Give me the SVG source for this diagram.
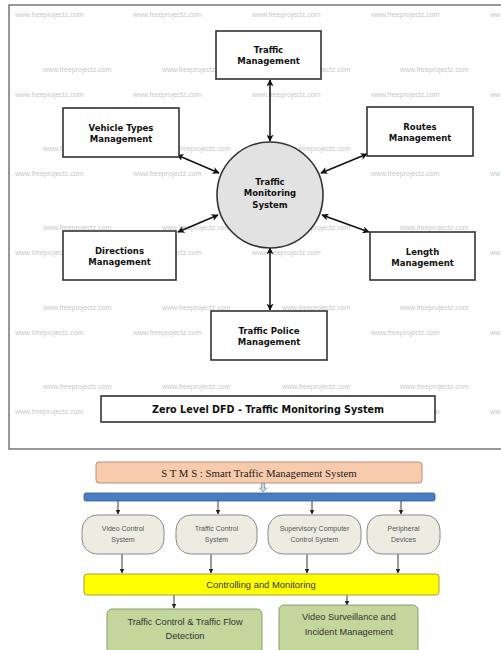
<svg xmlns="http://www.w3.org/2000/svg" width="501" height="650" viewBox="0 0 501 650">
<defs>
<marker id="ah" viewBox="0 0 10 10" refX="9" refY="5" markerWidth="7" markerHeight="7" orient="auto-start-reverse" markerUnits="userSpaceOnUse">
<path d="M0,0 L10,5 L0,10 L2.5,5 z" fill="#111"/>
</marker>
<marker id="sh" viewBox="0 0 10 10" refX="9" refY="5" markerWidth="5" markerHeight="5" orient="auto" markerUnits="userSpaceOnUse">
<path d="M0,0 L10,5 L0,10 z" fill="#222"/>
</marker>
<style>
.wm{font-family:"Liberation Sans",Arial,sans-serif;font-size:7px;fill:#c8c8c8}
.box{fill:#fff;stroke:#333;stroke-width:1.6}
.lb{font-family:"DejaVu Sans",sans-serif;font-weight:bold;font-size:8.5px;fill:#111;text-anchor:middle}
.dfd{stroke:#111;stroke-width:1.5;fill:none;marker-start:url(#ah);marker-end:url(#ah)}
.sys{fill:#eeece1;stroke:#8a8a8a;stroke-width:1}
.st{font-family:"Liberation Sans",Arial,sans-serif;font-size:7px;fill:#555;text-anchor:middle}
.thin{stroke:#222;stroke-width:0.9;fill:none;marker-end:url(#sh)}
.gr{fill:#c3d69b;stroke:#8a9a70;stroke-width:1}
.gt{font-family:"Liberation Sans",Arial,sans-serif;font-size:9.2px;fill:#333;text-anchor:middle}
</style>
</defs>
<rect x="0" y="0" width="501" height="650" fill="#fff"/>
<rect x="9" y="5" width="500" height="444" fill="#fff" stroke="#555" stroke-width="1.2"/>
<g id="watermarks">
<text class="wm" x="15" y="17">www.freeprojectz.com</text><text class="wm" x="133" y="17">www.freeprojectz.com</text><text class="wm" x="252" y="17">www.freeprojectz.com</text><text class="wm" x="371" y="17">www.freeprojectz.com</text><text class="wm" x="490" y="17">ww</text>
<text class="wm" x="43" y="72">www.freeprojectz.com</text><text class="wm" x="162" y="72">www.freeprojectz.com</text><text class="wm" x="282" y="72">www.freeprojectz.com</text><text class="wm" x="400" y="72">www.freeprojectz.com</text>
<text class="wm" x="15" y="97">www.freeprojectz.com</text><text class="wm" x="133" y="97">www.freeprojectz.com</text><text class="wm" x="252" y="97">www.freeprojectz.com</text><text class="wm" x="371" y="97">www.freeprojectz.com</text><text class="wm" x="490" y="97">ww</text>
<text class="wm" x="43" y="151">www.freeprojectz.com</text><text class="wm" x="162" y="151">www.freeprojectz.com</text><text class="wm" x="282" y="151">www.freeprojectz.com</text><text class="wm" x="400" y="151">www.freeprojectz.com</text>
<text class="wm" x="15" y="176">www.freeprojectz.com</text><text class="wm" x="133" y="176">www.freeprojectz.com</text><text class="wm" x="252" y="176">www.freeprojectz.com</text><text class="wm" x="371" y="176">www.freeprojectz.com</text><text class="wm" x="490" y="176">ww</text>
<text class="wm" x="43" y="230">www.freeprojectz.com</text><text class="wm" x="162" y="230">www.freeprojectz.com</text><text class="wm" x="282" y="230">www.freeprojectz.com</text><text class="wm" x="400" y="230">www.freeprojectz.com</text>
<text class="wm" x="15" y="255">www.freeprojectz.com</text><text class="wm" x="133" y="255">www.freeprojectz.com</text><text class="wm" x="252" y="255">www.freeprojectz.com</text><text class="wm" x="371" y="255">www.freeprojectz.com</text><text class="wm" x="490" y="255">ww</text>
<text class="wm" x="43" y="310">www.freeprojectz.com</text><text class="wm" x="162" y="310">www.freeprojectz.com</text><text class="wm" x="282" y="310">www.freeprojectz.com</text><text class="wm" x="400" y="310">www.freeprojectz.com</text>
<text class="wm" x="15" y="335">www.freeprojectz.com</text><text class="wm" x="133" y="335">www.freeprojectz.com</text><text class="wm" x="252" y="335">www.freeprojectz.com</text><text class="wm" x="371" y="335">www.freeprojectz.com</text><text class="wm" x="490" y="335">ww</text>
<text class="wm" x="43" y="389">www.freeprojectz.com</text><text class="wm" x="162" y="389">www.freeprojectz.com</text><text class="wm" x="282" y="389">www.freeprojectz.com</text><text class="wm" x="400" y="389">www.freeprojectz.com</text>
<text class="wm" x="15" y="414">www.freeprojectz.com</text><text class="wm" x="133" y="414">www.freeprojectz.com</text><text class="wm" x="252" y="414">www.freeprojectz.com</text><text class="wm" x="371" y="414">www.freeprojectz.com</text><text class="wm" x="490" y="414">ww</text>
</g>
<g id="connectors">
<line class="dfd" x1="270" y1="80" x2="270" y2="141"/>
<line class="dfd" x1="177" y1="155" x2="219" y2="173"/>
<line class="dfd" x1="367" y1="154" x2="321" y2="173"/>
<line class="dfd" x1="178" y1="232" x2="218" y2="215"/>
<line class="dfd" x1="369" y1="232" x2="322" y2="215"/>
<line class="dfd" x1="270" y1="248" x2="270" y2="310"/>
<line class="thin" x1="118" y1="501" x2="118" y2="514"/>
<line class="thin" x1="218" y1="501" x2="218" y2="514"/>
<line class="thin" x1="312" y1="501" x2="312" y2="514"/>
<line class="thin" x1="401" y1="501" x2="401" y2="514"/>
<line class="thin" x1="122" y1="554" x2="122" y2="573"/>
<line class="thin" x1="211" y1="554" x2="211" y2="573"/>
<line class="thin" x1="307" y1="554" x2="307" y2="573"/>
<line class="thin" x1="398" y1="554" x2="398" y2="573"/>
<line class="thin" x1="174" y1="595" x2="174" y2="608"/>
<line class="thin" x1="347" y1="595" x2="347" y2="605"/>
<path d="M261.5,483 h3 v5 h2 l-3.5,4 l-3.5,-4 h2 z" fill="#cfd8e8" stroke="#6a7fa0" stroke-width="0.7"/>
</g>
<g id="traffic-management"><rect class="box" x="216" y="31" width="105" height="48"/><text class="lb" x="268.5" y="53">Traffic</text><text class="lb" x="268.5" y="64">Management</text></g>
<g id="vehicle-types"><rect class="box" x="63" y="108" width="116" height="49"/><text class="lb" x="121" y="131">Vehicle Types</text><text class="lb" x="121" y="142">Management</text></g>
<g id="routes"><rect class="box" x="367" y="107" width="106" height="49"/><text class="lb" x="420" y="130">Routes</text><text class="lb" x="420" y="141">Management</text></g>
<g id="tms"><circle cx="270" cy="195" r="53" fill="#e2e2e2" stroke="#333" stroke-width="1.6"/><text class="lb" x="270" y="185">Traffic</text><text class="lb" x="270" y="196">Monitoring</text><text class="lb" x="270" y="208">System</text></g>
<g id="directions"><rect class="box" x="63" y="231" width="113" height="49"/><text class="lb" x="119.5" y="254">Directions</text><text class="lb" x="119.5" y="265">Management</text></g>
<g id="length"><rect class="box" x="370" y="232" width="105" height="48"/><text class="lb" x="422.5" y="255">Length</text><text class="lb" x="422.5" y="266">Management</text></g>
<g id="traffic-police"><rect class="box" x="211" y="311" width="116" height="49"/><text class="lb" x="269" y="334">Traffic Police</text><text class="lb" x="269" y="345">Management</text></g>
<g id="title"><rect class="box" x="101" y="396" width="334" height="26"/><text class="lb" x="268" y="413" style="font-size:9.6px">Zero Level DFD - Traffic Monitoring System</text></g>
<g id="stms"><rect x="96" y="462" width="326" height="21" rx="3" fill="#f9cbad" stroke="#b09080" stroke-width="1"/><text x="259" y="476.5" text-anchor="middle" font-family="Liberation Serif,serif" font-size="10.8" fill="#222">S T M S : Smart Traffic Management System</text></g>
<g id="bus"><rect x="84" y="493" width="351" height="8" rx="2" fill="#4a7ec4" stroke="#2f5a95" stroke-width="0.8"/></g>
<g id="video-control"><rect class="sys" x="82" y="515" width="82" height="39" rx="15"/><text class="st" x="123" y="531">Video Control</text><text class="st" x="123" y="541.5">System</text></g>
<g id="traffic-control"><rect class="sys" x="176" y="515" width="81" height="39" rx="15"/><text class="st" x="216.5" y="531">Traffic Control</text><text class="st" x="216.5" y="541.5">System</text></g>
<g id="supervisory"><rect class="sys" x="268" y="515" width="93" height="39" rx="15"/><text class="st" x="314.5" y="531">Supervisory Computer</text><text class="st" x="314.5" y="541.5">Control System</text></g>
<g id="peripheral"><rect class="sys" x="367" y="515" width="73" height="39" rx="15"/><text class="st" x="403.5" y="531">Peripheral</text><text class="st" x="403.5" y="541.5">Devices</text></g>
<g id="controlling"><rect x="84" y="574" width="355" height="21" rx="3" fill="#ffff00" stroke="#a0a040" stroke-width="1"/><text class="gt" x="261" y="588" style="font-size:9.4px">Controlling and Monitoring</text></g>
<g id="flow-detection"><rect class="gr" x="107" y="609" width="155" height="45" rx="5"/><text class="gt" x="185" y="625">Traffic Control &amp; Traffic Flow</text><text class="gt" x="185" y="639">Detection</text></g>
<g id="surveillance"><rect class="gr" x="279" y="605" width="139" height="49" rx="5"/><text class="gt" x="349" y="620">Video Surveillance and</text><text class="gt" x="349" y="635">Incident Management</text></g>
</svg>
